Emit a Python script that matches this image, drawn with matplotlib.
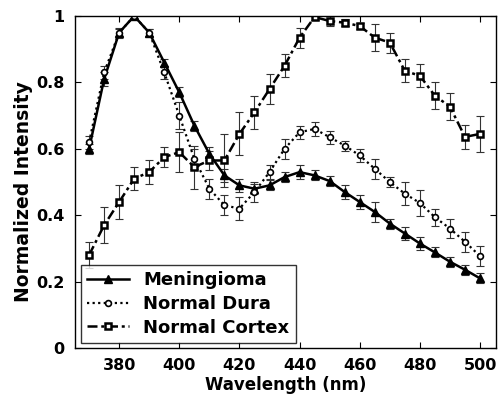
import matplotlib
matplotlib.use("Agg")
import matplotlib.pyplot as plt
import numpy as np

wavelength = list(range(370, 501, 5))

meningioma = [0.60, 0.81, 0.95, 1.00, 0.95, 0.86, 0.77, 0.67, 0.585, 0.52, 0.49, 0.48, 0.49,
              0.515, 0.53, 0.52, 0.503, 0.47, 0.44, 0.41, 0.375, 0.345, 0.315, 0.288, 0.26, 0.236, 0.21]
meningioma_err = [0.015, 0.02, 0.015, 0.005, 0.01, 0.01, 0.015, 0.015, 0.02, 0.02, 0.02, 0.015, 0.015,
                  0.015, 0.02, 0.015, 0.015, 0.02, 0.02, 0.03, 0.015, 0.02, 0.02, 0.015, 0.015, 0.015, 0.015]

dura = [0.62, 0.83, 0.95, 1.00, 0.95, 0.83, 0.70, 0.57, 0.48, 0.43, 0.42, 0.47, 0.53,
        0.60, 0.65, 0.66, 0.635, 0.61, 0.58, 0.54, 0.50, 0.465, 0.437, 0.394, 0.36, 0.32, 0.277]
dura_err = [0.02, 0.02, 0.01, 0.005, 0.01, 0.02, 0.04, 0.03, 0.03, 0.03, 0.035, 0.03, 0.02,
            0.03, 0.02, 0.02, 0.02, 0.015, 0.02, 0.03, 0.015, 0.035, 0.04, 0.025, 0.03, 0.03, 0.03]

cortex = [0.28, 0.37, 0.44, 0.51, 0.53, 0.575, 0.59, 0.545, 0.565, 0.565, 0.645, 0.71, 0.78,
          0.85, 0.935, 0.997, 0.985, 0.98, 0.97, 0.935, 0.92, 0.835, 0.82, 0.76, 0.727, 0.636, 0.645]
cortex_err = [0.04, 0.055, 0.05, 0.035, 0.035, 0.03, 0.06, 0.065, 0.03, 0.08, 0.065, 0.05, 0.045,
              0.035, 0.03, 0.01, 0.015, 0.01, 0.01, 0.04, 0.03, 0.035, 0.035, 0.04, 0.04, 0.035, 0.055]

xticks = [380, 400, 420, 440, 460, 480, 500]
yticks = [0, 0.2, 0.4, 0.6, 0.8, 1]
ytick_labels = ["0", "0.2", "0.4", "0.6", "0.8", "1"]

plt.rcParams['font.family'] = ['DejaVu Sans']
plt.rcParams['font.weight'] = 'bold'

fig = plt.figure(figsize=(5.03, 4.01), dpi=100)
ax = fig.add_axes([0.149, 0.132, 0.837, 0.828])

err_kw = dict(fmt='none', ecolor='#333333', elinewidth=0.8, capsize=3, capthick=0.8)
ax.errorbar(wavelength, meningioma, yerr=meningioma_err, **err_kw)
ax.errorbar(wavelength, dura, yerr=dura_err, **err_kw)
ax.errorbar(wavelength, cortex, yerr=cortex_err, **err_kw)

ax.plot(wavelength, meningioma, color='black', linestyle='-', linewidth=1.8,
        marker='^', markersize=5.5, markerfacecolor='black', label='Meningioma')
ax.plot(wavelength, dura, color='black', linestyle=(0, (1, 1.5)), linewidth=1.6,
        marker='o', markersize=4.2, markerfacecolor='white', markeredgewidth=1.2, label='Normal Dura')
ax.plot(wavelength, cortex, color='black', linestyle=(0, (4, 1.5, 1.2, 1.5)), linewidth=1.8,
        marker='s', markersize=5, markerfacecolor='white', markeredgewidth=1.8, label='Normal Cortex')

ax.set_xlim(365.3, 505.3)
ax.set_ylim(0, 1)
ax.set_xticks(xticks)
ax.set_yticks(yticks)
ax.set_yticklabels(ytick_labels)
ax.tick_params(direction='in', top=True, right=True, labelsize=11.5, length=4, width=0.8, pad=7.5)
for lab in ax.get_xticklabels() + ax.get_yticklabels():
    lab.set_fontweight('bold')
ax.set_xlabel('Wavelength (nm)', fontsize=12, fontweight='bold', labelpad=2)
ax.set_ylabel('Normalized Intensity', fontsize=13.5, fontweight='bold')
ax.yaxis.set_label_coords(-0.1, 0.47)
for s in ax.spines.values():
    s.set_linewidth(1.0)

leg = ax.legend(loc='lower left', bbox_to_anchor=(0.014, 0.015), frameon=True,
                fancybox=False, edgecolor='black', borderaxespad=0, handlelength=2.3,
                labelspacing=0.32, borderpad=0.35, handletextpad=0.8,
                prop={'weight': 'bold', 'size': 13})
leg.get_frame().set_linewidth(1.0)

fig.savefig('out.png', dpi=100)
